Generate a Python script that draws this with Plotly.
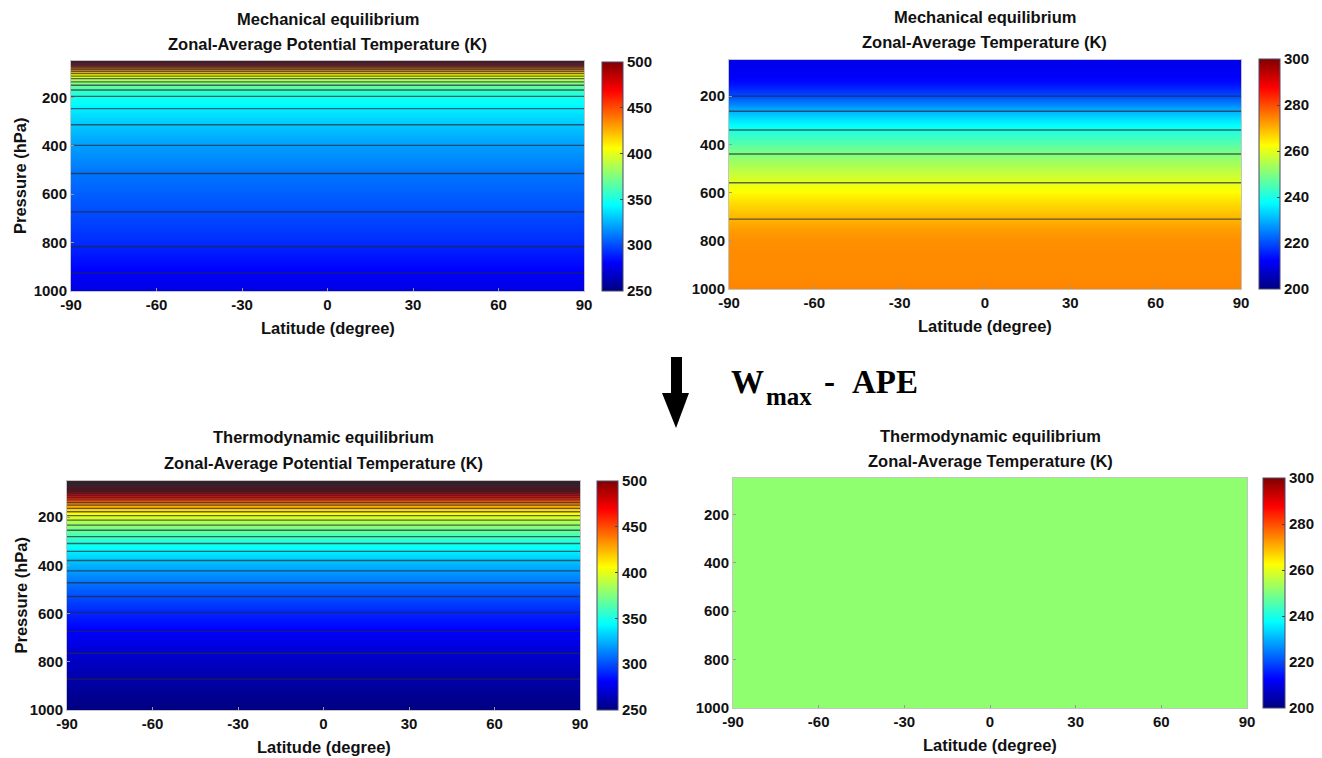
import plotly.graph_objects as go

W, H = 1322, 758

# ---------------- data ----------------
latitude = [-90, -60, -30, 0, 30, 60, 90]
pressure = [1000, 950, 900, 850, 800, 750, 700, 650, 600, 550, 500, 450, 400,
            350, 300, 250, 200, 175, 150, 125, 100, 90, 80, 70, 60, 50]

# Mechanical equilibrium, zonal-average potential temperature (K)
theta_mech = [274.5, 278.0, 282.2, 286.8, 291.5, 295.3, 298.4, 301.4, 304.4,
              307.6, 311.0, 315.4, 319.8, 325.7, 331.6, 339.4, 348.6, 357.5,
              370.0, 388.0, 412.0, 424.0, 438.0, 455.0, 477.0, 503.0]
# Mechanical equilibrium, zonal-average temperature (K)
temp_mech = [274.5, 274.0, 273.8, 273.8, 273.5, 272.0, 269.5, 266.5, 263.0,
             259.3, 255.1, 251.0, 246.1, 241.2, 235.0, 228.3, 220.0, 217.0,
             214.0, 212.5, 211.5, 211.2, 211.0, 210.8, 210.6, 210.5]
# Thermodynamic equilibrium, zonal-average potential temperature (K)
theta_thermo = [250.0, 253.7, 257.6, 261.9, 266.5, 271.4, 276.9, 282.8, 289.3,
                296.6, 304.8, 314.1, 324.9, 337.6, 352.8, 371.7, 396.1, 411.6,
                430.1, 453.1, 483.0, 497.8, 514.8, 534.9, 559.0, 588.9]
# Thermodynamic equilibrium, zonal-average temperature (K)
temp_thermo = [251.5, 251.5, 251.5, 251.5, 251.5, 251.5, 251.5, 251.5, 251.5,
               251.5, 251.5, 251.5, 251.5, 251.5, 251.5, 251.5, 251.5, 251.5,
               251.5, 251.5, 251.5, 251.5, 251.5, 251.5, 251.5, 251.5]

lat_ticks = [-90, -60, -30, 0, 30, 60, 90]
lat_tick_labels = ["-90", "-60", "-30", "0", "30", "60", "90"]
p_ticks = [200, 400, 600, 800, 1000]
theta_cb_ticks = [250, 300, 350, 400, 450, 500]
temp_cb_ticks = [200, 220, 240, 260, 280, 300]

JET = [[0.0, "rgb(0,0,128)"], [0.125, "rgb(0,0,255)"], [0.375, "rgb(0,255,255)"],
       [0.625, "rgb(255,255,0)"], [0.875, "rgb(255,0,0)"], [1.0, "rgb(128,0,0)"]]

FONT = "Liberation Sans, Arial, Helvetica, sans-serif"
SERIF = "Liberation Serif, Times New Roman, serif"
TXT = "#111111"


def px(x):
    return x / W


def py(y):
    return 1 - y / H


panels = [
    dict(prof=theta_mech, zmin=250, zmax=500, cbt=theta_cb_ticks,
         box=(71, 584, 61, 291), cb=(602, 21, 62, 291), lines=(280, 510),
         t1="Mechanical equilibrium", t2="Zonal-Average Potential Temperature (K)",
         ty=(19, 44), ylab=True),
    dict(prof=temp_mech, zmin=200, zmax=300, cbt=temp_cb_ticks,
         box=(729, 1241, 60, 289), cb=(1259, 21, 59, 289), lines=(220, 270),
         t1="Mechanical equilibrium", t2="Zonal-Average Temperature (K)",
         ty=(17, 42), ylab=False),
    dict(prof=theta_thermo, zmin=250, zmax=500, cbt=theta_cb_ticks,
         box=(67, 580, 481, 710), cb=(597, 21, 481, 710), lines=(260, 590),
         t1="Thermodynamic equilibrium", t2="Zonal-Average Potential Temperature (K)",
         ty=(437, 463), ylab=True),
    dict(prof=temp_thermo, zmin=200, zmax=300, cbt=temp_cb_ticks,
         box=(733, 1247, 478, 708), cb=(1263, 22, 478, 708), lines=None,
         t1="Thermodynamic equilibrium", t2="Zonal-Average Temperature (K)",
         ty=(436, 461), ylab=False),
]

fig = go.Figure()
annotations = []
layout_axes = {}
TICKFONT = dict(family=FONT, size=15, color=TXT, weight="bold")

for i, pn in enumerate(panels, start=1):
    xa, ya = f"x{i}", f"y{i}"
    z = [[v for _ in latitude] for v in pn["prof"]]
    cbx, cbth, cbtop, cbbot = pn["cb"]
    fig.add_trace(go.Heatmap(
        x=latitude, y=pressure, z=z, zsmooth="best", colorscale=JET,
        zmin=pn["zmin"], zmax=pn["zmax"], xaxis=xa, yaxis=ya, hoverinfo="skip",
        colorbar=dict(x=px(cbx), xanchor="left", y=py(cbtop), yanchor="top",
                      len=(cbbot - cbtop) / H, lenmode="fraction",
                      thickness=cbth, thicknessmode="pixels", xpad=0, ypad=0,
                      outlinecolor="#4a4a6a", outlinewidth=1,
                      tickvals=pn["cbt"], ticks="inside", ticklen=3,
                      tickcolor="#444", tickwidth=1, tickfont=TICKFONT)))
    if pn["lines"] is not None:
        fig.add_trace(go.Contour(
            x=latitude, y=pressure, z=z, xaxis=xa, yaxis=ya, showscale=False,
            hoverinfo="skip",
            contours=dict(coloring="none", start=pn["lines"][0], end=pn["lines"][1],
                          size=10, showlabels=False),
            line=dict(color="rgba(35,40,55,0.7)", width=1.4)))

    x0, x1, y0, y1 = pn["box"]
    axcommon = dict(showline=True, mirror=True, linecolor="#c4c4c4", linewidth=1,
                    showgrid=False, zeroline=False, ticks="inside", ticklen=3,
                    tickcolor="#999", tickfont=TICKFONT, automargin=False)
    layout_axes[f"xaxis{i}"] = dict(domain=[px(x0), px(x1)], anchor=ya,
                                    range=[-90, 90], tickvals=lat_ticks,
                                    ticktext=lat_tick_labels, **axcommon)
    layout_axes[f"yaxis{i}"] = dict(domain=[py(y1), py(y0)], anchor=xa,
                                    range=[1000, 50], autorange=False,
                                    tickvals=p_ticks, **axcommon)

    cx = (x0 + x1) / 2
    tf = dict(family=FONT, size=16.5, color=TXT, weight="bold")
    annotations.append(dict(text=pn["t1"], x=px(cx), y=py(pn["ty"][0]), xref="paper",
                            yref="paper", showarrow=False, font=tf,
                            xanchor="center", yanchor="middle"))
    annotations.append(dict(text=pn["t2"], x=px(cx), y=py(pn["ty"][1]), xref="paper",
                            yref="paper", showarrow=False, font=tf,
                            xanchor="center", yanchor="middle"))
    annotations.append(dict(text="Latitude (degree)", x=px(cx), y=py(y1 + 37),
                            xref="paper", yref="paper", showarrow=False, font=tf,
                            xanchor="center", yanchor="middle"))
    if pn["ylab"]:
        annotations.append(dict(text="Pressure (hPa)", x=px(20), y=py((y0 + y1) / 2),
                                xref="paper", yref="paper", showarrow=False,
                                font=tf, textangle=-90,
                                xanchor="center", yanchor="middle"))

# W_max - APE label (built from pieces so the subscript keeps its large size)
big = dict(family=SERIF, size=33, color="#000", weight="bold")
small = dict(family=SERIF, size=25, color="#000", weight="bold")
annotations += [
    dict(text="W", x=px(729), y=py(382), xref="paper", yref="paper", showarrow=False,
         font=big, xanchor="left", yanchor="middle"),
    dict(text="max", x=px(764), y=py(396), xref="paper", yref="paper", showarrow=False,
         font=small, xanchor="left", yanchor="middle"),
    dict(text="-", x=px(829), y=py(382), xref="paper", yref="paper", showarrow=False,
         font=big, xanchor="center", yanchor="middle"),
    dict(text="APE", x=px(850), y=py(382), xref="paper", yref="paper", showarrow=False,
         font=big, xanchor="left", yanchor="middle"),
]

shapes = [
    dict(type="rect", xref="paper", yref="paper", x0=px(671), x1=px(682),
         y0=py(357), y1=py(394), fillcolor="black", line=dict(width=0)),
    dict(type="path", xref="paper", yref="paper",
         path=f"M {px(662)},{py(393)} L {px(689)},{py(393)} L {px(676)},{py(428)} Z",
         fillcolor="black", line=dict(width=0)),
]

fig.update_layout(width=W, height=H,
                  margin=dict(l=0, r=0, t=0, b=0, pad=0, autoexpand=False),
                  paper_bgcolor="white", plot_bgcolor="white", showlegend=False,
                  annotations=annotations, shapes=shapes, **layout_axes)

fig.write_html("out.html", config={"displayModeBar": False},
               post_script="document.body.style.margin='0px';"
                           "document.body.style.overflow='hidden';")
